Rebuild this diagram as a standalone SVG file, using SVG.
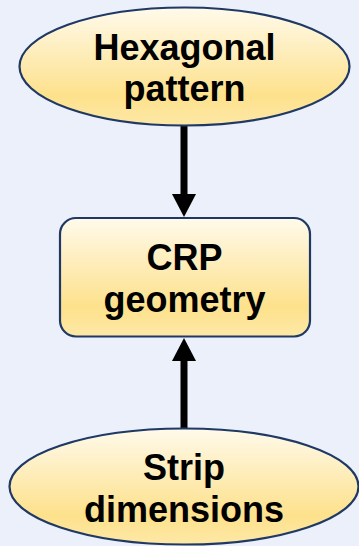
<svg xmlns="http://www.w3.org/2000/svg" width="359" height="546" viewBox="0 0 359 546">
<defs>
<linearGradient id="fill" x1="0" y1="0" x2="0" y2="1">
<stop offset="0" stop-color="#fffaeb"/>
<stop offset="0.75" stop-color="#fde18c"/>
<stop offset="1" stop-color="#fde8a6"/>
</linearGradient>
<marker id="ah" markerWidth="4" markerHeight="4" refX="0" refY="2" orient="auto" markerUnits="strokeWidth" viewBox="0 0 4 4">
<path d="M0,0 L3.3,2 L0,4 Z" fill="#000"/>
</marker>
<style>
.n{fill:url(#fill);stroke:#1f3864;stroke-width:2.2}
.t{font-family:"Liberation Sans",Arial,sans-serif;font-weight:bold;font-size:36px;text-anchor:middle;fill:#000}
.c{stroke:#000;stroke-width:7;fill:none}
</style>
</defs>
<rect width="359" height="546" fill="#ebf0fa"/>
<g id="connectors">
<line class="c" x1="184" y1="126" x2="184" y2="195"/>
<path d="M172,194 L196,194 L184,217 Z" fill="#000"/>
<line class="c" x1="184" y1="428" x2="184" y2="360"/>
<path d="M172,361 L196,361 L184,338 Z" fill="#000"/>
</g>
<g id="hexagonal">
<ellipse class="n" cx="184.5" cy="66.5" rx="165" ry="59"/>
<text class="t" x="184.5" y="60">Hexagonal</text>
<text class="t" x="184.5" y="101">pattern</text>
</g>
<g id="crp">
<rect class="n" x="60" y="218" width="250" height="118.5" rx="16"/>
<text class="t" x="184.5" y="270">CRP</text>
<text class="t" x="184.5" y="312">geometry</text>
</g>
<g id="strip">
<ellipse class="n" cx="184" cy="486.5" rx="174.5" ry="58"/>
<text class="t" x="184" y="480">Strip</text>
<text class="t" x="184" y="522">dimensions</text>
</g>
</svg>
